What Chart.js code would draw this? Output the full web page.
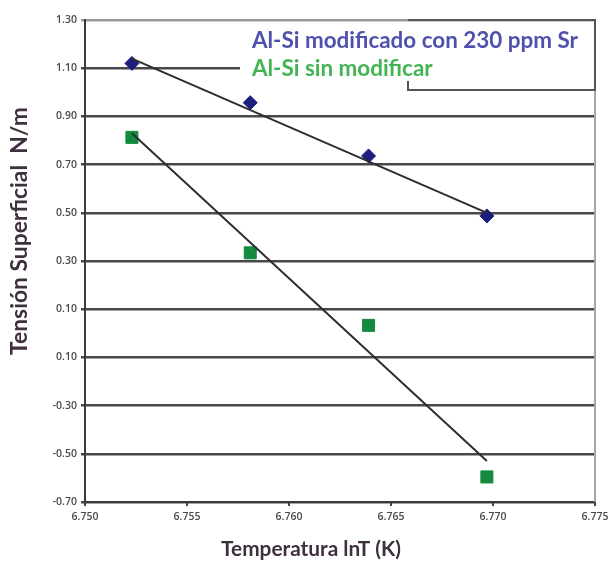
<!DOCTYPE html>
<html>
<head>
<meta charset="utf-8">
<script src="https://cdn.jsdelivr.net/npm/chart.js@4/dist/chart.umd.min.js"></script>
<style>
  html, body { margin: 0; padding: 0; background: #ffffff; }
  #wrap { width: 614px; height: 562px; }
</style>
</head>
<body>
<div id="wrap"><canvas id="c" width="614" height="562"></canvas></div>
<script>
// ---- Data ----
const xValues = [6.7523, 6.7581, 6.7639, 6.7697];
const modificado = [1.12, 0.957, 0.736, 0.487];
const sinModificar = [0.813, 0.334, 0.033, -0.596];
const trendX = [6.7523, 6.7697];
const trendModificado = [1.14, 0.50];
const trendSinModificar = [0.83, -0.53];
const yTickLabels = ['-0.70', '-0.50', '-0.30', '0.10', '0.10', '0.30', '0.50', '0.70', '0.90', '1.10', '1.30'];
const xTickLabels = ['6.750', '6.755', '6.760', '6.765', '6.770', '6.775'];
const seriesNames = ['Al-Si modificado con 230 ppm Sr', 'Al-Si sin modificar'];
const yTitle = 'Tensión Superficial  N/m';
const xTitle = 'Temperatura lnT (K)';

const pts = (xs, ys) => xs.map((x, i) => ({ x: x, y: ys[i] }));

function fitFont(ctx, text, weight, family, target) {
  let s = 10;
  ctx.font = `${weight} ${s}px ${family}`;
  const w = ctx.measureText(text).width;
  return s * target / w;
}

const overlay = {
  id: 'overlay',
  beforeDatasetsDraw(chart) {
    const ctx = chart.ctx;
    const a = chart.chartArea;
    ctx.save();
    // right border of plot
    ctx.strokeStyle = '#a8a8a8';
    ctx.lineWidth = 2;
    ctx.beginPath();
    ctx.moveTo(a.right, a.top);
    ctx.lineTo(a.right, a.bottom);
    ctx.stroke();
    // legend box (white, partially bordered)
    ctx.fillStyle = '#ffffff';
    ctx.fillRect(240, a.top + 2, a.right - 240 - 1, 68);
    ctx.strokeStyle = '#555555';
    ctx.lineWidth = 2;
    ctx.beginPath();
    ctx.moveTo(408, a.top);
    ctx.lineTo(a.right, a.top);
    ctx.lineTo(a.right, 90);
    ctx.lineTo(408, 90);
    ctx.lineTo(408, 81);
    ctx.stroke();
    // legend texts
    const fam = 'Lato, "Open Sans", sans-serif';
    const s = fitFont(ctx, seriesNames[0], 'bold', fam, 326);
    ctx.font = `bold ${s}px ${fam}`;
    ctx.textAlign = 'left';
    ctx.textBaseline = 'middle';
    ctx.fillStyle = '#5050ae';
    ctx.fillText(seriesNames[0], 252, 41);
    ctx.fillStyle = '#42b552';
    ctx.fillText(seriesNames[1], 252, 69);
    ctx.restore();
  },
  afterDraw(chart) {
    const ctx = chart.ctx;
    ctx.save();
    const fam = 'Lato, "Open Sans", sans-serif';
    ctx.fillStyle = '#3f3040';
    ctx.textAlign = 'center';
    ctx.textBaseline = 'middle';
    const sx = fitFont(ctx, xTitle, 'bold', fam, 180);
    ctx.font = `bold ${sx}px ${fam}`;
    ctx.fillText(xTitle, 311, 549);
    const sy = fitFont(ctx, yTitle, 'bold', fam, 248);
    ctx.font = `bold ${sy}px ${fam}`;
    ctx.translate(20, 231);
    ctx.rotate(-Math.PI / 2);
    ctx.fillText(yTitle, 0, 0);
    ctx.restore();
  }
};

new Chart(document.getElementById('c'), {
  type: 'scatter',
  data: {
    datasets: [
      {
        label: seriesNames[0],
        data: pts(xValues, modificado),
        pointStyle: 'rectRot',
        pointRadius: 7,
        pointHoverRadius: 7,
        backgroundColor: '#1c1f7c',
        borderColor: '#1c1f7c',
        borderWidth: 1,
        order: 2
      },
      {
        label: seriesNames[1],
        data: pts(xValues, sinModificar),
        pointStyle: 'rect',
        pointRadius: 8.5,
        pointHoverRadius: 8.5,
        backgroundColor: '#138a3d',
        borderColor: '#138a3d',
        borderWidth: 1,
        order: 2
      },
      {
        label: 'trend1',
        data: pts(trendX, trendModificado),
        showLine: true,
        pointRadius: 0,
        borderColor: '#2e2e2e',
        borderWidth: 2,
        order: 1
      },
      {
        label: 'trend2',
        data: pts(trendX, trendSinModificar),
        showLine: true,
        pointRadius: 0,
        borderColor: '#2e2e2e',
        borderWidth: 2,
        order: 1
      }
    ]
  },
  options: {
    responsive: false,
    animation: false,
    devicePixelRatio: 1,
    layout: { padding: { top: 20, right: 19, left: 0, bottom: 0 } },
    plugins: {
      legend: { display: false },
      tooltip: { enabled: false },
      title: { display: false }
    },
    scales: {
      x: {
        type: 'linear',
        min: 6.750,
        max: 6.775,
        afterFit(scale) { scale.height = 60; },
        ticks: {
          stepSize: 0.005,
          padding: 5,
          color: '#4a4a4a',
          font: { family: '"Open Sans", sans-serif', size: 10.5, weight: '600' },
          callback: (v, i) => xTickLabels[i]
        },
        grid: { drawOnChartArea: false, drawTicks: true, tickLength: 4, color: '#444444', lineWidth: 2 },
        border: { display: true, color: '#3a3a3a', width: 2 }
      },
      y: {
        type: 'linear',
        min: -0.7,
        max: 1.3,
        afterFit(scale) { scale.width = 85; },
        ticks: {
          stepSize: 0.2,
          padding: 4,
          color: '#4a4a4a',
          font: { family: '"Open Sans", sans-serif', size: 10.5, weight: '600' },
          callback: (v, i) => yTickLabels[i]
        },
        grid: {
          drawTicks: true,
          tickLength: 4,
          lineWidth: 2.5,
          color: (c) => (c.index === 10 ? '#9a9a9a' : '#484848')
        },
        border: { display: true, color: '#3a3a3a', width: 2 }
      }
    }
  },
  plugins: [overlay]
});
</script>
</body>
</html>
